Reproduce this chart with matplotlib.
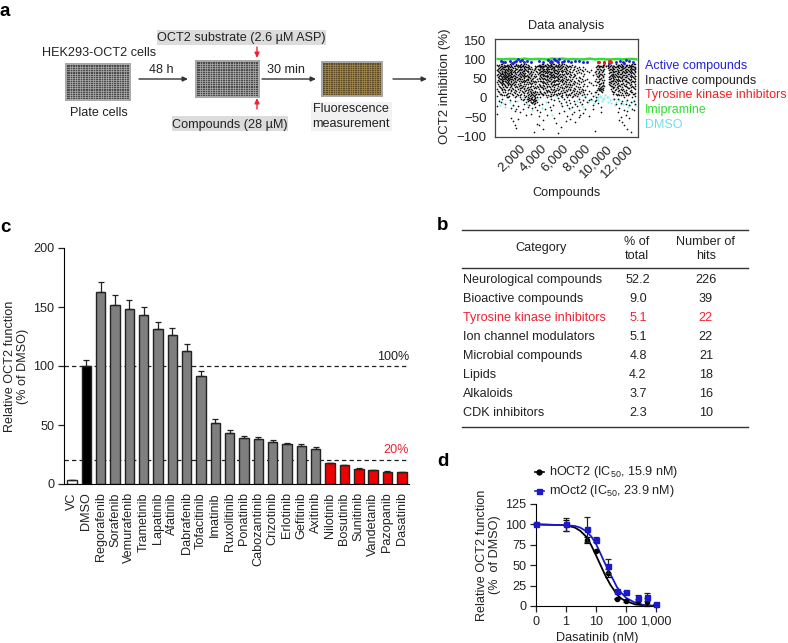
import matplotlib
matplotlib.use("Agg")
import matplotlib.pyplot as plt
from matplotlib.patches import Rectangle

plt.rcParams["font.family"] = ["Liberation Sans", "DejaVu Sans"]
plt.rcParams["mathtext.default"] = "regular"
TXT = "#222222"

# panel c
drugs = ["VC", "DMSO", "Regorafenib", "Sorafenib", "Vemurafenib", "Trametinib", "Lapatinib", "Afatinib",
         "Dabrafenib", "Tofacitinib", "Imatinib", "Ruxolitinib", "Ponatinib", "Cabozantinib", "Crizotinib",
         "Erlotinib", "Gefitinib", "Axitinib", "Nilotinib", "Bosutinib", "Sunitinib", "Vandetanib",
         "Pazopanib", "Dasatinib"]
func_mean = [3, 100, 163, 152, 148, 143, 131, 126, 113, 91.5, 52, 43, 39, 38, 36, 33.5, 32, 29.5,
             17.5, 16, 13, 11.5, 10.5, 10]
func_err = [0, 5, 8.5, 8, 8, 7, 6.5, 6, 6, 4.5, 3, 2.5, 2, 2, 1.5, 1.5, 1.5, 1.5,
            0.5, 0.5, 0.3, 0.3, 0.4, 0.3]
bar_colors = ["white", "black"] + ["#7f7f7f"] * 16 + ["#ee0000"] * 6

# panel b
categories = ["Neurological compounds", "Bioactive compounds", "Tyrosine kinase inhibitors",
              "Ion channel modulators", "Microbial compounds", "Lipids", "Alkaloids", "CDK inhibitors"]
pct_total = ["52.2", "9.0", "5.1", "5.1", "4.8", "4.2", "3.7", "2.3"]
n_hits = ["226", "39", "22", "22", "21", "18", "16", "10"]

# panel d, 0.1 stands for the "0" position of the broken log axis
dose = [0.1, 1, 5, 10, 25, 50, 100, 250, 500, 1000]
h_mean = [100, 99, 81, 68, 40, 9, 6, 6, 5, 1]
h_err = [0, 7, 4, 1, 5, 1, 1, 3, 5, 0]
m_mean = [100, 100, 94, 81, 49, 18, 17, 10, 11, 2]
m_err = [0, 8, 15, 3, 8, 1, 1, 4, 5, 0]
fit_dose = [0.1, 1, 2, 3, 5, 7, 10, 15, 20, 30, 50, 70, 100, 200, 400, 1000]
h_fit = [100, 99, 96, 92, 84, 74, 62, 48, 38, 26, 14, 9, 6, 2, 1, 0]
m_fit = [100, 99, 98, 96, 91, 85, 76, 62, 52, 39, 23, 16, 10, 4, 1, 0]

# panel a scatter, one row per compound plate position
inactive = {
    -60: [86, 72, 60, 41, 22, 5, -22, -41], 130: [85, 78, 66, 58, 51, 44, 30, 14, -8],
    290: [87, 82, 74, 63, 57, 49, 38, 26, 11, -12], 420: [87, 71, 68, 61, 55, 47, 42, 33, 19, -3],
    560: [86, 80, 76, 66, 59, 53, 48, 37, 24, 8], 700: [84, 79, 70, 64, 56, 52, 43, 31, 16, -15],
    840: [85, 83, 73, 65, 58, 54, 46, 39, 28, 9, 2], 980: [86, 77, 69, 62, 57, 50, 41, 35, 21, 3],
    1120: [88, 81, 72, 67, 60, 55, 49, 36, 27, 12, -6], 1260: [85, 75, 68, 61, 53, 45, 32, 17, -26, -52],
    1400: [87, 78, 66, 58, 47, 38, 23, 6, -18, -61], 1560: [82, 73, 64, 52, 44, 29, 13, -9, -34, -70],
    1720: [88, 86, 74, 63, 55, 42, 31, 18, 4, -28, -78], 1880: [85, 80, 71, 59, 50, 37, 22, 7, -21, -55],
    2030: [86, 84, 76, 67, 56, 48, 34, 20, 1, -38], 2180: [87, 79, 72, 62, 54, 45, 33, 25, 10, -4],
    2320: [86, 83, 70, 65, 57, 43, 30, 15, -7, -30], 2470: [88, 77, 69, 60, 51, 40, 26, 12, -2, -16],
    2610: [87, 81, 73, 58, 46, 35, 19, 5, -11, -46], 2760: [86, 74, 66, 55, 47, 28, 16, 3, -8, -23],
    2900: [84, 78, 62, 53, 41, 24, 11, 0, -6, -19], 3040: [80, 67, 56, 44, 32, 14, 7, -2, -10, -42],
    3180: [76, 63, 49, 38, 21, 9, 2, -4, -13, -27], 3320: [72, 58, 40, 26, 12, 4, -3, -9, -16, -88],
    3480: [84, 74, 55, 36, 17, 6, -1, -7, -14, -24], 3640: [82, 66, 48, 30, 15, 2, -12, -33, -68],
    3790: [85, 83, 72, 64, 51, 37, 24, 9, -20, -47, -71], 3930: [86, 82, 75, 66, 59, 48, 33, 18, 3, -36],
    4080: [87, 84, 77, 69, 61, 52, 41, 27, 10, -15], 4220: [87, 80, 73, 63, 57, 44, 34, 22, 6, -58, -80],
    4370: [86, 83, 71, 65, 56, 49, 38, 25, 13, -29], 4520: [88, 78, 70, 60, 53, 42, 31, 17, 1, -44],
    4660: [85, 81, 74, 67, 58, 46, 36, 20, 8, -12], 4810: [86, 79, 68, 61, 54, 43, 29, 16, 4, -25],
    4950: [87, 85, 76, 66, 57, 50, 35, 23, 11, -3, -31], 5100: [89, 80, 72, 62, 55, 45, 33, 19, 7, -18],
    5240: [87, 77, 70, 59, 51, 40, 28, 14, -5, -52], 5390: [86, 84, 73, 64, 56, 47, 37, 21, 9, -66],
    5530: [85, 82, 75, 65, 52, 44, 30, 12, 0, -91], 5680: [88, 79, 69, 60, 48, 39, 24, 10, -9, -40],
    5830: [86, 78, 71, 58, 46, 34, 18, 5, -14, -75], 5970: [87, 81, 67, 55, 43, 27, 13, 2, -22],
    6120: [87, 74, 63, 52, 38, 25, 15, -4, -35], 6270: [85, 76, 65, 49, 36, 20, 6, -11, -60],
    6410: [84, 73, 61, 47, 31, 17, 3, -19, -48], 6560: [84, 70, 57, 42, 29, 11, -6, -27],
    6710: [82, 68, 53, 37, 22, 8, -13, -56], 6860: [86, 66, 48, 33, 14, 1, -24, -43],
    7010: [80, 62, 45, 26, 10, -8, -37], 7160: [83, 59, 41, 23, 7, -15, -64],
    7310: [78, 64, 38, 18, 4, -21], 7460: [81, 55, 35, 16, -2, -32, -50],
    7610: [76, 52, 28, 12, -10, -45], 7760: [72, 49, 24, 6, -17],
    7910: [79, 58, 32, 15, -7, -39], 8060: [74, 46, 21, 3, -28],
    8220: [70, 50, 30, 9, -12], 8400: [66, 42, 18, -6, -47],
    8580: [73, 39, 12, -3], 8760: [60, 34, 5, -20, -30],
    8940: [68, 44, 16, -9, -86], 9090: [80, 71, 62, 48, 33, 15, 2, -5],
    9240: [85, 76, 65, 55, 42, 26, 10, -14], 9390: [84, 79, 68, 58, 44, 30, 24, 20],
    9540: [84, 72, 63, 52, 38, 27, 22, 18, -23, -38], 9690: [86, 80, 70, 56, 41, 33, 25, 19],
    9840: [86, 75, 61, 47, 30], 10000: [84, 82], 10150: [85, 83, 78],
    10310: [88, 80, 72, 64, 55, 48, 42, 36], 10460: [85, 76, 68, 60, 52, 45, 38, 30, 22],
    10610: [84, 78, 70, 62, 54, 47, 35, 26, 9], 10760: [84, 74, 66, 57, 49, 39, 28, 14, -2],
    10910: [87, 79, 69, 59, 50, 41, 24, 11, -16], 11060: [86, 81, 71, 63, 53, 43, 31, 17, -4, -38],
    11210: [86, 77, 67, 58, 46, 34, 20, 6, -26, -58], 11360: [88, 80, 72, 61, 51, 37, 23, 8, -13, -49],
    11510: [85, 83, 74, 65, 55, 44, 29, 12, -9, -62], 11660: [87, 78, 68, 60, 48, 33, 18, 3, -31, -70],
    11810: [86, 82, 70, 59, 47, 36, 21, 7, -17, -44], 11960: [85, 76, 66, 56, 42, 28, 13, -6, -35, -80],
    12110: [85, 79, 71, 62, 50, 38, 25, 9, -20, -52], 12260: [86, 81, 73, 64, 54, 40, 27, 14, -11, -88],
    12410: [87, 83, 75, 66, 57, 45, 32, 16, 1, -28], 12560: [87, 80, 72, 61, 52, 41, 26, 10, -8, -33],
    12710: [88, 78, 69, 58, 49, 35, 22, 5, -15],
}
# second pass over the dense part of the cloud
inactive_dense = {
    40: [83, 75, 69, 62, 54, 46, 35, 18], 210: [81, 73, 64, 59, 50, 40, 28, 9],
    355: [84, 77, 70, 65, 52, 45, 36, 23, 7], 490: [79, 74, 63, 56, 50, 44, 39, 29, 15],
    630: [83, 72, 68, 61, 57, 51, 45, 34, 20], 770: [82, 75, 67, 60, 55, 49, 40, 27, 6],
    910: [80, 76, 71, 63, 56, 51, 44, 33, 12], 1050: [84, 74, 65, 59, 52, 47, 38, 24, 4],
    1190: [83, 70, 64, 56, 50, 42, 34, 19], 1330: [80, 72, 63, 55, 49, 36, 25, 9],
    1480: [84, 69, 60, 51, 41, 33, 15], 1640: [78, 68, 57, 48, 35, 21, 2],
    1800: [83, 76, 66, 53, 46, 28, 10], 1955: [82, 73, 61, 52, 43, 30, 14],
    2100: [81, 74, 65, 58, 49, 39, 26, 8], 2250: [84, 75, 68, 59, 50, 41, 29, 17],
    2390: [80, 72, 63, 55, 46, 36, 22, 6], 2540: [83, 74, 64, 56, 44, 32, 18, 3],
    2680: [79, 70, 60, 50, 42, 25, 13, -4], 2830: [81, 69, 58, 49, 37, 21, 8, -3],
    2970: [75, 65, 51, 38, 29, 17, 5, -7], 3110: [70, 59, 46, 35, 24, 12, 0, -11],
    3250: [66, 52, 43, 30, 16, 8, -5, -12], 3400: [78, 61, 45, 28, 15, 3, -8],
    3560: [80, 71, 58, 42, 25, 9, -5], 3710: [83, 76, 61, 44, 28, 10],
    3860: [81, 76, 68, 57, 45, 30, 14], 4000: [84, 79, 71, 62, 54, 43, 28, 12],
    4150: [83, 74, 66, 59, 49, 39, 26, 11], 4295: [82, 76, 69, 60, 52, 42, 31, 15],
    4445: [84, 75, 67, 58, 47, 36, 21, 7], 4590: [80, 73, 64, 56, 50, 40, 27, 14],
    4735: [83, 76, 70, 62, 52, 44, 32, 18], 4880: [82, 74, 65, 59, 48, 38, 24, 5],
    5025: [84, 78, 68, 60, 53, 41, 30, 15], 5170: [81, 75, 67, 57, 47, 37, 22, 9],
    5315: [83, 73, 64, 54, 44, 33, 17], 5460: [80, 71, 62, 55, 46, 35, 25, 6],
    5605: [84, 76, 66, 58, 49, 37, 20], 5755: [82, 74, 63, 53, 43, 29, 12],
    5900: [79, 72, 61, 50, 40, 26, 8], 6045: [83, 70, 59, 47, 35, 21],
    6195: [81, 69, 56, 44, 31, 16], 6340: [78, 67, 54, 41, 27, 10],
    6485: [80, 64, 50, 37, 23, 7], 6635: [76, 62, 46, 34, 19],
    6785: [79, 60, 44, 28, 12], 6935: [73, 55, 39, 21, 5],
    7085: [75, 57, 36, 18], 7235: [70, 51, 32, 12], 7385: [72, 47, 27, 9], 7535: [68, 43, 22],
    7685: [65, 40, 17], 7835: [69, 44, 20], 7985: [62, 37, 11],
    9165: [82, 74, 57, 40, 20], 9315: [80, 70, 60, 48, 35, 23], 9465: [83, 74, 62, 50, 37, 26, 19],
    9615: [81, 68, 59, 46, 31, 23, 16], 9765: [82, 72, 55, 38],
    10385: [84, 74, 66, 58, 50, 41, 33], 10535: [81, 72, 63, 56, 43, 31, 18],
    10685: [83, 75, 67, 59, 51, 43, 29, 16], 10835: [80, 71, 61, 53, 45, 33, 20],
    10985: [84, 75, 65, 56, 46, 37, 27, 8], 11135: [82, 73, 66, 55, 48, 38, 25, 10],
    11285: [83, 72, 63, 54, 43, 30, 15], 11435: [81, 76, 68, 57, 47, 35, 19],
    11585: [84, 77, 69, 60, 50, 39, 24, 6], 11735: [80, 73, 64, 54, 44, 30, 12],
    11885: [83, 75, 67, 55, 45, 32, 16], 12035: [81, 72, 61, 52, 41, 26, 8],
    12185: [84, 76, 66, 57, 46, 34, 18], 12335: [82, 77, 69, 60, 49, 37, 21],
    12485: [83, 74, 64, 55, 43, 29, 11], 12635: [81, 76, 67, 56, 44, 30, 13],
}
active_x = [300, 500, 700, 1100, 1300, 1500, 1700, 1850, 2050, 2250, 2450, 2700, 3050, 3800, 4200, 4600, 4850, 4950,
            5050, 5150, 5300, 5450, 5550, 5650, 5900, 6150, 6450, 6800, 7100, 7500, 7900, 8200, 9300, 9800, 10300,
            10900, 11300, 11600, 11700, 11850, 12100, 12500]
active_y = [96, 92, 93, 95, 91, 92, 96, 100, 97, 99, 94, 96, 93, 95, 92, 98, 94, 97, 92, 101, 99, 96, 92, 100, 94, 97,
            96, 93, 95, 97, 94, 92, 94, 93, 90, 92, 97, 94, 91, 99, 95, 93]
tki_x = [9350, 9800, 10240, 10320, 10400, 10480]
tki_y = [93, 90, 95, 93, 96, 92]
imipramine_x = [0, 500, 1000, 1500, 2000, 2500, 3000, 3500, 4000, 4500, 5000, 5500, 6000, 6500, 7000, 7500, 8000,
                8500, 9000, 9500, 10000, 10500, 11000, 11500, 12000, 12500, 12800]
imipramine_y = [101, 100, 101, 101, 100, 102, 100, 101, 101, 100, 102, 101, 102, 100, 101, 100, 100, 102, 100, 101, 100,
                100, 101, 100, 101, 101, 100]
dmso_x = [100, 500, 900, 1400, 1800, 2300, 2700, 3200, 3700, 4100, 4500, 5000, 5400, 5800, 6300, 6700, 7100, 7500,
          7900, 8300, 8700, 9000, 9300, 9600, 9900, 10200, 10500, 10800, 11200, 11600, 12000, 12400, 12700,
          200, 650, 1150, 7300, 7700, 8100, 8500, 8900, 9150, 9450, 9750, 10050, 10350, 10650, 10950, 11400, 11800,
          12200, 12600, 9250, 9550, 9850, 10150]
dmso_y = [-6, -14, 4, -22, -9, 3, -17, -32, -4, -26, -11, -44, 5, -19, -8, -30, -15, 2, -24, -12, -5, 6, 1, -9, 8,
          3, -13, -20, -7, -16, -23, -10, -18, -18, -25, -12, -8, -19, 4, -3, -14, 0, 5, -4, 2, -7, -2, -11, -15, -9,
          -19, -5, -6, 3, -1, -10]

# figure in pixels
fig = plt.figure(figsize=(7.88, 6.43), dpi=100)
W, H = 788, 643


def axes_px(left, top, right, bottom):
    return fig.add_axes([left / W, 1 - bottom / H, (right - left) / W, (bottom - top) / H])


canvas = fig.add_axes([0, 0, 1, 1])
canvas.set_xlim(0, W)
canvas.set_ylim(H, 0)
canvas.axis("off")


def plate(x0, y0, x1, y1, well, line):
    canvas.add_patch(Rectangle((x0, y0), x1 - x0, y1 - y0, fc="#a8a8a8", ec="none"))
    canvas.add_patch(Rectangle((x0 + 2, y0 + 2), x1 - x0 - 4, y1 - y0 - 4, fc=well, ec="none"))
    for i in range(1, 24):
        xx = x0 + 2 + i * (x1 - x0 - 4) / 24
        canvas.plot([xx, xx], [y0 + 2, y1 - 2], color=line, lw=0.45)
    for i in range(1, 16):
        yy = y0 + 2 + i * (y1 - y0 - 4) / 16
        canvas.plot([x0 + 2, x1 - 2], [yy, yy], color=line, lw=0.45)


def arrow(x0, y0, x1, y1, color="#333333", lw=1.0):
    canvas.annotate("", xy=(x1, y1), xytext=(x0, y0),
                    arrowprops=dict(arrowstyle="-|>,head_width=0.14,head_length=0.3", color=color, lw=lw,
                                    shrinkA=0, shrinkB=0))


FS = 9.1
for s, x, y in [("a", 0, 12), ("c", 0, 227), ("b", 437, 226), ("d", 437, 461)]:
    canvas.text(x, y, s, fontsize=13.5, fontweight="bold", va="center", color="black")

canvas.add_patch(Rectangle((157, 30), 169, 15, fc="#dcdcdc", ec="none"))
canvas.add_patch(Rectangle((172, 116), 116, 15, fc="#dcdcdc", ec="none"))
canvas.add_patch(Rectangle((311, 102), 81, 29, fc="#f1f1f1", ec="none"))
plate(65, 63, 131, 101, "#4a4a4a", "#b8b8b8")
plate(195, 60, 260, 98, "#4a4a4a", "#b8b8b8")
plate(321, 61, 383, 97, "#5e4a24", "#ab9250")
canvas.text(42, 53, "HEK293-OCT2 cells", fontsize=FS, color=TXT, va="center")
canvas.text(99, 113, "Plate cells", fontsize=FS, color=TXT, va="center", ha="center")
canvas.text(161, 70, "48 h", fontsize=FS, color=TXT, va="center", ha="center")
canvas.text(286, 70, "30 min", fontsize=FS, color=TXT, va="center", ha="center")
canvas.text(241.5, 38, "OCT2 substrate (2.6 µM ASP)", fontsize=FS, color=TXT, va="center", ha="center")
canvas.text(230, 125, "Compounds (28 µM)", fontsize=FS, color=TXT, va="center", ha="center")
canvas.text(351, 109, "Fluorescence", fontsize=FS, color=TXT, va="center", ha="center")
canvas.text(351, 124, "measurement", fontsize=FS, color=TXT, va="center", ha="center")
arrow(139, 79, 188, 79)
arrow(262, 79, 316, 79)
arrow(393, 79, 427, 79)
arrow(257, 47, 257, 58, "#ee2233")
arrow(257, 109, 257, 98, "#ee2233")

# panel a scatter
ax_a = axes_px(495, 39, 638, 137)
for cloud in [inactive, inactive_dense]:
    for x, ys in cloud.items():
        ax_a.scatter([x] * len(ys), ys, s=1.5, color="#111111", lw=0, zorder=2)
ax_a.scatter(dmso_x, dmso_y, s=2.5, color="#8eeef0", lw=0, zorder=1)
ax_a.plot(imipramine_x, imipramine_y, color="#33dd33", lw=1.8, zorder=3)
ax_a.scatter(active_x, active_y, s=4.5, color="#2222dd", lw=0, zorder=4)
ax_a.scatter(tki_x, tki_y, s=5, color="#ee2222", lw=0, zorder=5)
ax_a.set_xlim(-250, 12950)
ax_a.set_ylim(-102, 153)
ax_a.set_yticks([-100, -50, 0, 50, 100, 150], ["−100", "−50", "0", "50", "100", "150"])
ax_a.set_xticks([2000, 4000, 6000, 8000, 10000, 12000],
                ["2,000", "4,000", "6,000", "8,000", "10,000", "12,000"], rotation=45, ha="right",
                rotation_mode="anchor")
ax_a.tick_params(labelsize=FS + 0.4, colors=TXT, length=0, pad=6)
ax_a.tick_params(axis="x", pad=4)
ax_a.set_ylabel("OCT2 inhibition (%)", fontsize=FS + 0.4, color=TXT, labelpad=4, y=0.52)
ax_a.set_xlabel("Compounds", fontsize=FS, color=TXT, labelpad=5)
ax_a.set_title("Data analysis", fontsize=FS, color=TXT, pad=7)
for sp in ax_a.spines.values():
    sp.set_color("#444444")
    sp.set_linewidth(0.9)
key = [("Active compounds", "#2222dd"), ("Inactive compounds", "#222222"), ("Tyrosine kinase inhibitors", "#ee2222"),
       ("Imipramine", "#33dd33"), ("DMSO", "#66e0ee")]
for i, (s, c) in enumerate(key):
    canvas.text(645, 66 + i * 14.7, s, fontsize=9.0, color=c, va="center")

# panel c bars
ax_c = axes_px(64, 248, 409, 484)
ax_c.patch.set_alpha(0)
pos = list(range(len(drugs)))
ax_c.plot([-0.55, 23.5], [100, 100], color="#222222", lw=0.9, ls=(0, (3.5, 2.5)), zorder=1)
ax_c.plot([-0.55, 23.5], [20, 20], color="#222222", lw=0.9, ls=(0, (3.5, 2.5)), zorder=1)
ax_c.bar(pos, func_mean, width=0.66, color=bar_colors, edgecolor="#222222", linewidth=1.0, zorder=2)
ax_c.errorbar(pos, func_mean, yerr=[[0] * len(pos), func_err], fmt="none", ecolor="#222222", elinewidth=0.9,
              capsize=2.3, capthick=0.9, zorder=3)
ax_c.set_xlim(-0.55, 23.5)
ax_c.set_ylim(0, 200)
ax_c.set_yticks([0, 50, 100, 150, 200])
ax_c.set_xticks(pos, drugs, rotation=90)
ax_c.tick_params(axis="y", labelsize=FS, colors=TXT, length=4, width=0.9, pad=3)
ax_c.tick_params(axis="x", labelsize=FS, colors=TXT, length=0, pad=6)
ax_c.spines["top"].set_visible(False)
ax_c.spines["right"].set_visible(False)
ax_c.set_ylabel("Relative OCT2 function\n(% of DMSO)", fontsize=FS, color=TXT, labelpad=3, linespacing=1.15)
canvas.text(409, 357, "100%", fontsize=FS, color=TXT, ha="right", va="center")
canvas.text(409, 450, "20%", fontsize=FS, color="#ee2233", ha="right", va="center")

# panel b table
for yy in [230, 268, 427]:
    canvas.plot([462, 748], [yy, yy], color="#333333", lw=1.0)
canvas.text(541, 248, "Category", fontsize=FS, color=TXT, ha="center", va="center")
canvas.text(637, 249, "% of\ntotal", fontsize=FS, color=TXT, ha="center", va="center", linespacing=1.2)
canvas.text(706, 249, "Number of\nhits", fontsize=FS, color=TXT, ha="center", va="center", linespacing=1.2)
for i, name in enumerate(categories):
    c = "#ee2233" if name == "Tyrosine kinase inhibitors" else TXT
    yy = 280 + i * 19.05
    canvas.text(463, yy, name, fontsize=FS, color=c, va="center")
    canvas.text(638, yy, pct_total[i], fontsize=FS, color=c, ha="center", va="center")
    canvas.text(706, yy, n_hits[i], fontsize=FS, color=c, ha="center", va="center")

# panel d curve
ax_d = axes_px(536, 504, 659, 606)
ax_d.patch.set_alpha(0)
ax_d.set_xscale("log")
ax_d.plot(fit_dose, h_fit, color="black", lw=1.3, zorder=2)
ax_d.plot(fit_dose, m_fit, color="#1a1ac8", lw=1.3, zorder=2)
ax_d.errorbar(dose, h_mean, yerr=h_err, fmt="o", ms=3, color="black", elinewidth=0.9, capsize=2.5, capthick=0.9,
              zorder=3, clip_on=False)
ax_d.errorbar(dose, m_mean, yerr=m_err, fmt="s", ms=3.6, color="#1a1ac8", ecolor="#222222", elinewidth=0.9, capsize=2.5,
              capthick=0.9, zorder=4, clip_on=False)
ax_d.set_xlim(0.1, 1250)
ax_d.set_ylim(0, 125)
ax_d.set_yticks([0, 25, 50, 75, 100, 125])
ax_d.set_xticks([0.1, 1, 10, 100, 1000], ["0", "1", "10", "100", "1,000"])
ax_d.tick_params(labelsize=FS, colors=TXT, length=4, width=0.9, pad=3)
ax_d.tick_params(which="minor", length=2, width=0.7)
ax_d.spines["top"].set_visible(False)
ax_d.spines["right"].set_visible(False)
ax_d.set_xlabel("Dasatinib (nM)", fontsize=FS, color=TXT, labelpad=3)
ax_d.set_ylabel("Relative OCT2 function\n(%  of DMSO)", fontsize=FS, color=TXT, labelpad=3, linespacing=1.15)
canvas.plot([535, 544], [472, 472], color="black", lw=1.2)
canvas.plot([539.5], [472], "o", ms=3.5, color="black")
canvas.plot([535, 544], [491, 491], color="#1a1ac8", lw=1.2)
canvas.plot([539.5], [491], "s", ms=3.6, color="#1a1ac8")
canvas.text(549, 472, "hOCT2 (IC$_{50}$, 15.9 nM)", fontsize=FS, color=TXT, va="center")
canvas.text(549, 491, "mOct2 (IC$_{50}$, 23.9 nM)", fontsize=FS, color=TXT, va="center")

fig.savefig("out.png", dpi=100)
